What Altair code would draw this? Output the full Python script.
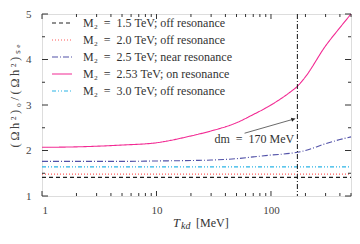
import altair as alt
import pandas as pd

# ---- data ----
T = [1, 2, 5, 10, 20, 30, 50, 70, 100, 150, 170, 200, 300, 400, 500]
m15 = [1.41] * 15
m20 = [1.48] * 15
m25 = [1.76, 1.76, 1.76, 1.77, 1.78, 1.79, 1.82, 1.86, 1.90, 1.94, 1.96, 2.00, 2.15, 2.24, 2.30]
m253 = [2.07, 2.08, 2.12, 2.17, 2.32, 2.43, 2.61, 2.79, 3.00, 3.30, 3.41, 3.62, 4.30, 4.70, 5.00]
m30 = [1.64] * 15

EN = "\u2002"
names = [f"M₂{EN}={EN}1.5 TeV; off resonance", f"M₂{EN}={EN}2.0 TeV; off resonance",
         f"M₂{EN}={EN}2.5 TeV; near resonance", f"M₂{EN}={EN}2.53 TeV; on resonance",
         f"M₂{EN}={EN}3.0 TeV; off resonance"]
colors = ["#222222", "#ff5a5a", "#5252a8", "#f22a93", "#2ab4e6"]
dashes = [[4, 3], [1, 2], [6, 2, 1, 2], [1, 0], [4, 2, 1, 2, 1, 2]]
series_vals = [m15, m20, m25, m253, m30]

dm_T = [170]
arrow_T = [58.8, 163]
arrow_y = [2.38, 2.70]
note_T = [71.6]
note_y = [2.26]
note_txt = [f"dm{EN}={EN}170 MeV"]

x_major = [1, 10, 100]
x_minor = [2, 3, 4, 5, 6, 7, 8, 9, 20, 30, 40, 50, 60, 70, 80, 90, 200, 300, 400, 500]
y_major = [1, 2, 3, 4, 5]
y_minor = [1.5, 2.5, 3.5, 4.5]

TH = "\u2009"
y_title = TH.join(["(", "Ω", "h", "²", ")", "₀", "/", "(", "Ω", "h", "²", ")", "ₛ", "ₑ"])

W, H = 309, 182
FONT = "Liberation Serif"

rows = []
for n, vals in zip(names, series_vals):
    for t, v in zip(T, vals):
        rows.append({"T": t, "v": v, "series": n})
df = pd.DataFrame(rows)

xs = alt.Scale(type="log", domain=[1, 500], nice=False)
ys = alt.Scale(domain=[1, 5], nice=False, zero=False)

leg = dict(title=None, orient="none", legendX=9, legendY=-2, padding=0,
           symbolType="stroke", symbolSize=400, symbolStrokeWidth=1.1,
           labelFont=FONT, labelFontSize=12, labelColor="#333",
           labelOffset=10, rowPadding=-1.5)

lines = alt.Chart(df).mark_line(strokeWidth=1.1, interpolate="monotone").encode(
    x=alt.X("T:Q", scale=xs,
            axis=alt.Axis(values=x_major, format="d", ticks=False, domain=False, grid=False,
                          labelFont=FONT, labelFontSize=11, labelColor="#444",
                          labelPadding=8, title=None)),
    y=alt.Y("v:Q", scale=ys,
            axis=alt.Axis(values=y_major, format="d", ticks=False, domain=False, grid=False,
                          labelFont=FONT, labelFontSize=11, labelColor="#444",
                          labelPadding=11, title=None)),
    color=alt.Color("series:N", scale=alt.Scale(domain=names, range=colors),
                    legend=alt.Legend(**leg)),
    strokeDash=alt.StrokeDash("series:N", scale=alt.Scale(domain=names, range=dashes),
                              legend=alt.Legend(**leg)),
    detail="series:N",
)

vline = alt.Chart(pd.DataFrame({"T": dm_T})).mark_rule(
    color="#111", strokeWidth=1, strokeDash=[5, 2, 1, 2]).encode(
    x=alt.X("T:Q", scale=xs), y=alt.value(0), y2=alt.value(H))

arrow = alt.Chart(pd.DataFrame({"T": arrow_T, "v": arrow_y})).mark_line(
    color="#444", strokeWidth=0.8).encode(x=alt.X("T:Q", scale=xs), y=alt.Y("v:Q", scale=ys))
head = alt.Chart(pd.DataFrame({"T": [arrow_T[1]], "v": [arrow_y[1]]})).mark_point(
    shape="triangle-right", filled=True, color="#222", size=18, angle=343,
    xOffset=-2, yOffset=0.6, opacity=1).encode(
    x=alt.X("T:Q", scale=xs), y=alt.Y("v:Q", scale=ys))
note = alt.Chart(pd.DataFrame({"T": note_T, "v": note_y, "t": note_txt})).mark_text(
    font=FONT, fontSize=12, color="#333").encode(
    x=alt.X("T:Q", scale=xs), y=alt.Y("v:Q", scale=ys), text="t:N")

# inward ticks
def yt(vals, x0, x1):
    return alt.Chart(pd.DataFrame({"v": vals})).mark_rule(color="#333", strokeWidth=1).encode(
        y=alt.Y("v:Q", scale=ys), x=alt.value(x0), x2=alt.value(x1))

def xt(vals, y0, y1):
    return alt.Chart(pd.DataFrame({"T": vals})).mark_rule(color="#333", strokeWidth=1).encode(
        x=alt.X("T:Q", scale=xs), y=alt.value(y0), y2=alt.value(y1))

ticks = [yt(y_major, 0, 6), yt(y_minor, 0, 3), yt(y_major, W, W - 6), yt(y_minor, W, W - 3),
         xt(x_major, H, H - 5), xt(x_minor, H, H - 3), xt(x_major, 0, 5), xt(x_minor, 0, 3)]

ytitle = alt.Chart(pd.DataFrame({"t": [y_title]})).mark_text(
    font=FONT, fontSize=12.5, angle=270, align="center", baseline="middle", color="#444").encode(
    text="t:N", x=alt.value(-27), y=alt.value(82))

t1 = alt.Chart(pd.DataFrame({"t": ["T"]})).mark_text(
    font=FONT, fontSize=12.5, fontStyle="italic", align="left", baseline="middle", color="#333").encode(
    text="t:N", x=alt.value(131), y=alt.value(H + 27))
t2 = alt.Chart(pd.DataFrame({"t": ["kd"]})).mark_text(
    font=FONT, fontSize=10, fontStyle="italic", align="left", baseline="middle", color="#333").encode(
    text="t:N", x=alt.value(139), y=alt.value(H + 30))
t3 = alt.Chart(pd.DataFrame({"t": ["[MeV]"]})).mark_text(
    font=FONT, fontSize=12, align="left", baseline="middle", color="#333").encode(
    text="t:N", x=alt.value(154), y=alt.value(H + 27))

chart = alt.layer(lines, vline, arrow, head, note, *ticks, ytitle, t1, t2, t3).properties(
    width=W, height=H,
    autosize=alt.AutoSizeParams(type="none"),
    padding={"left": 34, "top": 6, "right": 1, "bottom": 36},
).configure_view(stroke="#333", strokeWidth=1).configure(background="white")

chart.save("out.html", embed_options={"renderer": "svg", "actions": False})
